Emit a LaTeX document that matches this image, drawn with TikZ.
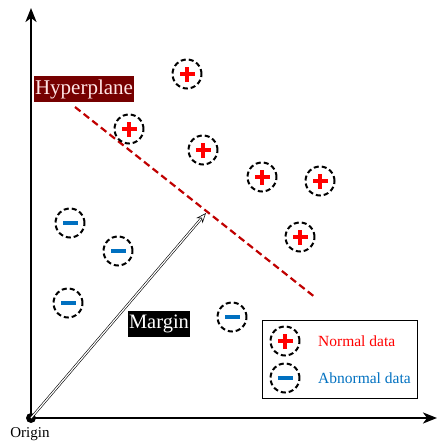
\documentclass[tikz,border=0pt]{standalone}
\usepackage{fontspec}
\setmainfont{Liberation Serif}
\usetikzlibrary{arrows.meta}
\definecolor{hpred}{RGB}{192,0,0}
\definecolor{hpbox}{RGB}{118,0,0}
\definecolor{plusred}{RGB}{255,0,0}
\definecolor{minusblue}{RGB}{0,112,192}
\tikzset{
  datacirc/.style={circle,draw=black,dash pattern=on 5pt off 3pt,line width=2pt,minimum size=29pt,inner sep=0pt},
  axis/.style={line width=2.2pt,-{Stealth[length=14pt,width=11pt,inset=4pt]}},
}
\newcommand{\plussign}{\tikz[baseline=-0.5ex]{\fill[plusred] (-7.5pt,-2.2pt) rectangle (7.5pt,2.2pt); \fill[plusred] (-2.2pt,-7.5pt) rectangle (2.2pt,7.5pt);}}
\newcommand{\minussign}{\tikz[baseline=-0.5ex]{\fill[minusblue] (-7.5pt,-2.2pt) rectangle (7.5pt,2.2pt);}}
\begin{document}
\begin{tikzpicture}[x=1pt,y=-1pt]
\useasboundingbox (0,0) rectangle (438,444);
% axes
\coordinate (O) at (31,418);
\coordinate (Ytip) at (31,8);
\coordinate (Xtip) at (437,418);
\draw[axis] (O) -- (Ytip);
\draw[axis] (O) -- (Xtip);
\fill (O) circle (5pt);
\node[font=\fontsize{15}{15}\selectfont] (origin) at (30,434) {Origin};
% hyperplane
\coordinate (h1) at (75,107);
\coordinate (h2) at (316,298);
\draw[hpred,line width=2.2pt,dash pattern=on 7pt off 4pt] (h1) -- (h2);
\node[fill=hpbox,text=white!90!red,inner sep=1.5pt,minimum height=26pt,font=\fontsize{21}{21}\selectfont] (hyp) at (84,89) {Hyperplane};
% margin arrow
\coordinate (mtip) at (206,213);
\draw[double=white,double distance=1.2pt,line width=0.6pt,-{Stealth[length=10pt,width=8pt,inset=3pt,open,fill=white]}] (O) -- (mtip);
\node[fill=black,text=white,inner sep=1.5pt,minimum height=26pt,font=\fontsize{20.5}{20.5}\selectfont] (margin) at (159,324) {Margin};
% positive points
\foreach \n/\x/\y in {p1/187/74, p2/129/129, p3/203/150, p4/262/177, p5/320/181, p6/300/237}
  \node[datacirc] (\n) at (\x,\y) {\plussign};
% negative points
\foreach \n/\x/\y in {m1/70/223, m2/118/251, m3/68/303, m4/232/317}
  \node[datacirc] (\n) at (\x,\y) {\minussign};
% legend
\node[draw=black,line width=0.8pt,minimum width=155pt,minimum height=78pt,inner sep=0pt] (legend) at (339.5,359) {};
\node[datacirc] (lp) at (285,341) {\plussign};
\node[datacirc] (lm) at (285,378) {\minussign};
\node[text=plusred,anchor=west,font=\fontsize{15.5}{15.5}\selectfont,inner sep=0pt] (lpt) at (318,341) {Normal data};
\node[text=minusblue,anchor=west,font=\fontsize{15.5}{15.5}\selectfont,inner sep=0pt] (lmt) at (318,378) {Abnormal data};
\end{tikzpicture}
\end{document}
